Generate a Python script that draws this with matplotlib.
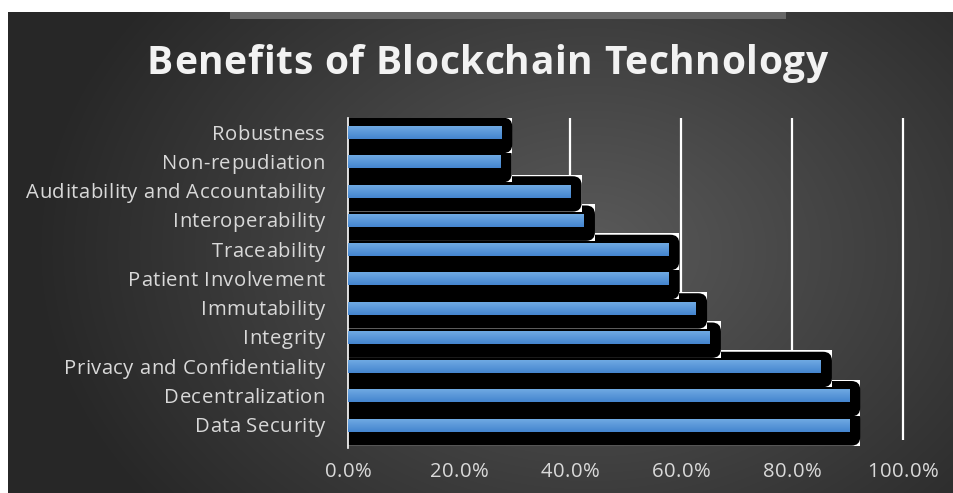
import numpy as np
import matplotlib
matplotlib.use('Agg')
import matplotlib.pyplot as plt
from matplotlib.patches import Rectangle, FancyBboxPatch
from matplotlib.font_manager import FontProperties

# data, listed top to bottom as in the chart
categories = ['Robustness', 'Non-repudiation', 'Auditability and Accountability',
              'Interoperability', 'Traceability', 'Patient Involvement',
              'Immutability', 'Integrity', 'Privacy and Confidentiality',
              'Decentralization', 'Data Security']
values = [27.6, 27.5, 40.1, 42.5, 57.7, 57.7, 62.7, 65.2, 85.2, 90.3, 90.3]
xticks = [0, 20, 40, 60, 80, 100]
xticklabels = ['0.0%', '20.0%', '40.0%', '60.0%', '80.0%', '100.0%']
title = 'Benefits of Blockchain Technology'

W, H = 954, 493
FONT = 'Open Sans'
fig = plt.figure(figsize=(W / 100, H / 100), dpi=100)
fig.patch.set_facecolor('white')
r = fig.canvas.get_renderer()


def ink_w(s, prop):
    return r.get_text_width_height_descent(s, prop, ismath=False)[0]


# the original text is spread wide, so place it letter by letter with extra tracking
def spaced_text(x, y, s, size, track, ha='left', weight='normal', color='#d9d9d9'):
    prop = FontProperties(family=FONT, size=size, weight=weight)
    total = ink_w(s, prop) + track * (len(s) - 1)
    if ha == 'right':
        x0 = x - total
    elif ha == 'center':
        x0 = x - total / 2.0
    else:
        x0 = x
    for i, ch in enumerate(s):
        if ch == ' ':
            continue
        off = ink_w(s[:i + 1], prop) - ink_w(ch, prop) if i else 0.0
        fig.text((x0 + off + track * i) / W, 1 - y / H, ch, fontproperties=prop,
                 color=color, ha='left', va='baseline')
    return total


def track_for(s, size, target, weight='normal'):
    prop = FontProperties(family=FONT, size=size, weight=weight)
    return (target - ink_w(s, prop)) / (len(s) - 1)


# background: radial grey gradient
bg = fig.add_axes([0, 0, 1, 1], zorder=-5)
yy, xx = np.mgrid[0:H, 0:W]
d = np.sqrt(((xx - 590) / 560.0) ** 2 + ((yy - 250) / 420.0) ** 2)
c0, c1 = 0x5a / 255.0, 0x27 / 255.0
val = np.clip(c0 - (c0 - c1) * d, c1, c0)
img = np.dstack([val, val, val])
img[:12, :, :] = 1.0
img[:, :8, :] = 1.0
img[12:19, 230:786, :] = 0x66 / 255.0
bg.imshow(img, extent=[0, W, H, 0], aspect='auto', interpolation='bilinear')
bg.set_xlim(0, W)
bg.set_ylim(H, 0)
bg.axis('off')

# title
tsize = 28
spaced_text(487.5, 74, title, tsize, track_for(title, tsize, 681, 'bold'),
            ha='center', weight='bold', color='#f2f2f2')

ax = fig.add_axes([348 / W, (H - 448) / H, 555 / W, 330 / H])
ax.set_facecolor('none')

n = len(categories)
ypos = [n - 1 - i for i in range(n)]

ax.vlines(xticks[1:], -0.5, 10.5, color='white', lw=1.6, zorder=1, clip_on=False)

# black glow behind each bar; upper rows go on top of lower ones
bh = 0.44
zo = 2.0
for y, v in sorted(zip(ypos, values)):
    top = y + bh / 2 + 0.29
    bot = y - bh / 2 - 0.48
    ax.add_patch(Rectangle((-3, bot), v + 3 + 2.0, top - bot + 0.05, facecolor='white',
                           edgecolor='none', zorder=zo))
    ax.add_patch(FancyBboxPatch((-3, bot), v + 3 + 2.0, top - bot,
                                boxstyle='round,pad=0,rounding_size=1.6',
                                mutation_aspect=0.19, facecolor='black',
                                edgecolor='none', zorder=zo + 0.01))
    zo += 0.02

grad = np.linspace(0, 1, 32).reshape(-1, 1)
cmap = matplotlib.colors.LinearSegmentedColormap.from_list('bar', ['#6fa9e2', '#4485cf'])
for y, v in zip(ypos, values):
    ax.imshow(grad, extent=[0, v, y - bh / 2, y + bh / 2], aspect='auto', cmap=cmap,
              origin='upper', zorder=4, interpolation='bilinear')

ax.set_xlim(0, 100)
ax.set_ylim(-0.78, 10.5)
ax.set_xticks([])
ax.set_yticks([])
for s in ['top', 'right', 'bottom']:
    ax.spines[s].set_visible(False)
ax.spines['left'].set_color('white')
ax.spines['left'].set_linewidth(1.2)
ax.spines['left'].set_zorder(3)

# category labels and value axis labels
lsize = 14.6
ltrack = track_for(categories[2], lsize, 299)
for y, lab in zip(ypos, categories):
    py = H - ax.transData.transform((0, y))[1]
    spaced_text(325, py + 7, lab, lsize, ltrack, ha='right')
for xv, lab in zip(xticks, xticklabels):
    px = ax.transData.transform((xv, 0))[0]
    spaced_text(px, 477, lab, lsize, ltrack, ha='center')

fig.savefig('out.png', dpi=100)
